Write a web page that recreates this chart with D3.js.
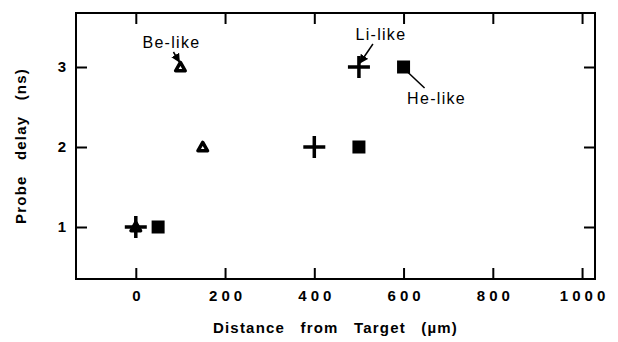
<!DOCTYPE html>
<html>
<head>
<meta charset="utf-8">
<script src="https://cdn.jsdelivr.net/npm/d3@7"></script>
<style>
	body { margin: 0; background: #fff; }
	svg text { font-family: "Liberation Sans", Arial, sans-serif; fill: #000; }
</style>
</head>
<body>
<div id="chart"></div>
<script>
// data
const beLike = [ [0, 1], [100, 3], [150, 2] ];
const liLike = [ [0, 1], [400, 2], [500, 3] ];
const heLike = [ [50, 1], [500, 2], [600, 3] ];
const xTicks = [0, 200, 400, 600, 800, 1000];
const yTicks = [1, 2, 3];

const width = 618;
const height = 342;
const margin = { top: 13, right: 23, bottom: 63, left: 76 };

const svg = d3.select('#chart')
	.append('svg')
	.attr('width', width)
	.attr('height', height);

const x = d3.scaleLinear()
	.domain([-134, 1029])
	.range([margin.left, width - margin.right]);

const y = d3.scaleLinear()
	.domain([0.35, 3.675])
	.range([height - margin.bottom, margin.top]);

// frame
svg.append('rect')
	.attr('x', margin.left)
	.attr('y', margin.top)
	.attr('width', width - margin.left - margin.right)
	.attr('height', height - margin.top - margin.bottom)
	.attr('fill', 'none')
	.attr('stroke', '#000')
	.attr('stroke-width', 2);

const tickLen = 11;

// bottom axis, ticks pointing inward
const xAxis = svg.append('g')
	.attr('transform', `translate(0,${height - margin.bottom})`)
	.call(d3.axisBottom(x).tickValues(xTicks).tickFormat(d3.format('d'))
		.tickSizeInner(-tickLen).tickSizeOuter(0).tickPadding(11));
xAxis.select('.domain').remove();
xAxis.selectAll('line').attr('stroke-width', 2);
xAxis.selectAll('text')
	.attr('font-size', 15)
	.attr('font-weight', 'bold')
	.attr('letter-spacing', '4px')
	.attr('dx', '2px');

// top ticks
const xTop = svg.append('g')
	.attr('transform', `translate(0,${margin.top})`)
	.call(d3.axisTop(x).tickValues(xTicks).tickSizeInner(-tickLen).tickSizeOuter(0).tickFormat(''));
xTop.select('.domain').remove();
xTop.selectAll('line').attr('stroke-width', 2);

// left axis
const yAxis = svg.append('g')
	.attr('transform', `translate(${margin.left},0)`)
	.call(d3.axisLeft(y).tickValues(yTicks).tickFormat(d3.format('d'))
		.tickSizeInner(-tickLen).tickSizeOuter(0).tickPadding(10));
yAxis.select('.domain').remove();
yAxis.selectAll('line').attr('stroke-width', 2);
yAxis.selectAll('text')
	.attr('font-size', 15)
	.attr('font-weight', 'bold');

// right ticks
const yRight = svg.append('g')
	.attr('transform', `translate(${width - margin.right},0)`)
	.call(d3.axisRight(y).tickValues(yTicks).tickSizeInner(-tickLen).tickSizeOuter(0).tickFormat(''));
yRight.select('.domain').remove();
yRight.selectAll('line').attr('stroke-width', 2);

// axis titles
svg.append('text')
	.attr('x', (margin.left + width - margin.right) / 2)
	.attr('y', 333)
	.attr('text-anchor', 'middle')
	.attr('font-size', 15)
	.attr('font-weight', 'bold')
	.attr('letter-spacing', '1.2px')
	.attr('word-spacing', '10px')
	.text('Distance from Target (\u00b5m)');

svg.append('text')
	.attr('transform', `translate(26,${(margin.top + height - margin.bottom) / 2}) rotate(-90)`)
	.attr('text-anchor', 'middle')
	.attr('font-size', 15)
	.attr('font-weight', 'bold')
	.attr('letter-spacing', '1.2px')
	.attr('word-spacing', '10px')
	.text('Probe delay (ns)');

// markers
svg.append('g')
	.selectAll('rect')
	.data(heLike)
	.join('rect')
	.attr('x', (d) => x(d[0]) - 6.5)
	.attr('y', (d) => y(d[1]) - 6.5)
	.attr('width', 13)
	.attr('height', 13)
	.attr('fill', '#000');

svg.append('g')
	.selectAll('path')
	.data(beLike)
	.join('path')
	.attr('d', d3.symbol().type(d3.symbolTriangle).size(40))
	.attr('transform', (d) => `translate(${x(d[0])},${y(d[1]) + 1})`)
	.attr('fill', '#fff')
	.attr('stroke', '#000')
	.attr('stroke-width', 3.5)
	.attr('stroke-linejoin', 'round');

svg.append('g')
	.selectAll('path')
	.data(liLike)
	.join('path')
	.attr('d', (d) => {
		const cx = x(d[0]), cy = y(d[1]);
		return `M${cx - 11},${cy}H${cx + 11}M${cx},${cy - 11}V${cy + 11}`;
	})
	.attr('stroke', '#000')
	.attr('stroke-width', 3.5);

// annotations
svg.append('defs')
	.append('marker')
	.attr('id', 'arrow')
	.attr('viewBox', '0 0 10 10')
	.attr('refX', 9)
	.attr('refY', 5)
	.attr('markerWidth', 6)
	.attr('markerHeight', 6)
	.attr('orient', 'auto')
	.append('path')
	.attr('d', 'M0,0L10,5L0,10z')
	.attr('fill', '#000');

const labelFont = (sel) => sel
	.attr('font-size', 16)
	.attr('letter-spacing', '1.3px');

// Be-like
svg.append('text')
	.attr('x', x(100) - 9)
	.attr('y', y(3) - 19)
	.attr('text-anchor', 'middle')
	.call(labelFont)
	.text('Be-like');
svg.append('line')
	.attr('x1', x(100) - 7).attr('y1', y(3) - 15)
	.attr('x2', x(100) - 1).attr('y2', y(3) - 5)
	.attr('stroke', '#000')
	.attr('stroke-width', 1.5)
	.attr('marker-end', 'url(#arrow)');

// Li-like
svg.append('text')
	.attr('x', x(500) + 22)
	.attr('y', y(3) - 27)
	.attr('text-anchor', 'middle')
	.call(labelFont)
	.text('Li-like');
svg.append('line')
	.attr('x1', x(500) + 14).attr('y1', y(3) - 23)
	.attr('x2', x(500) + 1).attr('y2', y(3) - 4)
	.attr('stroke', '#000')
	.attr('stroke-width', 1.5)
	.attr('marker-end', 'url(#arrow)');

// He-like
svg.append('text')
	.attr('x', x(600) + 33)
	.attr('y', y(3) + 37)
	.attr('text-anchor', 'middle')
	.call(labelFont)
	.text('He-like');
svg.append('line')
	.attr('x1', x(600) + 4).attr('y1', y(3) + 5)
	.attr('x2', x(600) + 21).attr('y2', y(3) + 21)
	.attr('stroke', '#000')
	.attr('stroke-width', 1.5);
</script>
</body>
</html>
